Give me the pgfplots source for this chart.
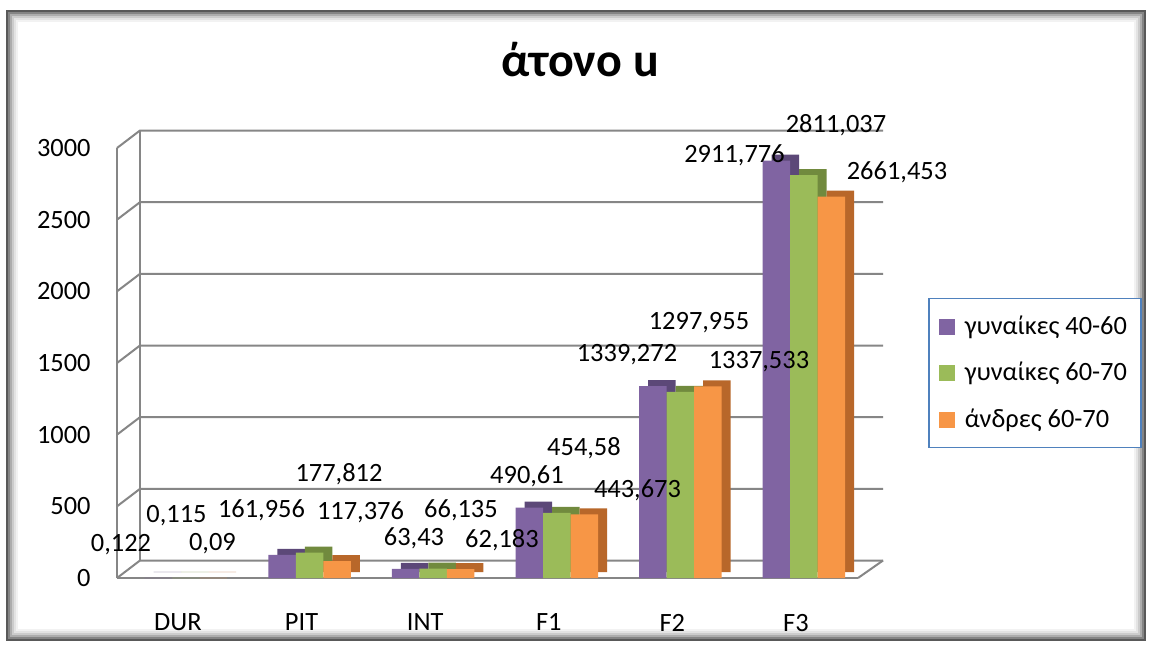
\documentclass[border=0pt]{standalone}
\usepackage{fontspec}
\setmainfont{Carlito}
\usepackage{pgfplots}
\usepackage{pgfplotstable}
\pgfplotsset{compat=1.18}

\definecolor{cpur}{HTML}{8064A2}
\definecolor{cgrn}{HTML}{9BBB59}
\definecolor{corg}{HTML}{F79646}
\definecolor{cpurD}{HTML}{5C4878}
\definecolor{cgrnD}{HTML}{718A3E}
\definecolor{corgD}{HTML}{B8672A}
\definecolor{gridc}{RGB}{134,134,134}
\definecolor{legc}{HTML}{4F81BD}

\pgfplotstableread{
x y dx dy
0 0.122 -18.75 16.5
1 161.956 -10.3 22.4
2 63.43 4.15 15.45
3 490.61 -1.15 15.85
4 1339.272 -12.95 15.5
5 2911.776 -21 2.8
}\tpur
\pgfplotstableread{
x y dx dy
0 0.115 -4.75 31
1 177.812 14.7 39.25
2 66.135 13.9 29.25
3 454.58 13.6 32.4
4 1297.955 9.3 34.5
5 2811.037 16 25
}\tgrn
\pgfplotstableread{
x y dx dy
0 0.09 -0.5 17
1 117.376 11.7 24.6
2 62.183 20.65 14.55
3 443.673 26.6 12.2
4 1337.533 25.55 12.15
5 2661.453 32.75 12.25
}\torg

\newcommand{\lblfont}{\fontsize{13.2}{15.8}\selectfont}

\begin{document}
\begin{tikzpicture}[x=1pt,y=1pt]
\fill[white] (0,0) rectangle (576,322);
% frame with inner shadow
\draw[line width=1pt, black!65] (3.5,2) rectangle (572.5,316.5);
\draw[line width=1pt, black!48] (4.5,3) rectangle (571.5,315.5);
\draw[line width=1pt, black!32] (5.5,4) rectangle (570.5,314.5);
\draw[line width=1pt, black!20] (6.5,5) rectangle (569.5,313.5);
\draw[line width=1pt, black!11] (7.5,6) rectangle (568.5,312.5);
\draw[line width=1pt, black!5] (8.5,7) rectangle (567.5,311.5);
% title
\node[font=\fontsize{24}{28}\selectfont\bfseries, anchor=base] at (290,283.5) {άτονο u};

\begin{axis}[
  at={(58.5pt,33pt)}, anchor=south west,
  scale only axis, width=370.5pt, height=215pt,
  xmin=-0.558, xmax=5.437, ymin=0, ymax=3000,
  clip=false,
  axis lines*=left,
  axis line style={gridc, line width=1pt},
  tick style={draw=none},
  xtick={0,1,2,3,4,5},
  xticklabels={DUR,PIT,INT,F1,F2,F3},
  ytick={0,500,1000,1500,2000,2500,3000},
  ticklabel style={font=\lblfont},
  yticklabel style={anchor=east, inner sep=0pt, xshift=-13pt},
  xticklabel style={anchor=north, inner sep=0pt, yshift=-13.5pt, xshift=-4pt},
  /pgf/number format/.cd, fixed, precision=3, use comma, 1000 sep={}, assume math mode=true,
  /pgfplots/.cd,
  ybar, bar width=13.75pt,
  every node near coord/.append style={font=\lblfont, text=black},
  legend style={at={(1.0945,0.6512)}, anchor=north west, draw=legc, line width=0.75pt,
    font=\lblfont, inner xsep=5pt, inner ysep=6.5pt, row sep=8.5pt,
    /tikz/every odd column/.append style={column sep=3pt}},
  legend cell align=left,
]
\pgfplotsinvokeforeach{0,500,1000,1500,2000,2500,3000}{
  \draw[gridc, line width=1pt] (axis cs:-0.558,#1) -- ([shift={(11.5pt,8.75pt)}]axis cs:-0.558,#1)
     -- ([shift={(12.5pt,8.75pt)}]axis cs:5.437,#1);
}
\draw[gridc, line width=1pt] ([shift={(11.5pt,8.75pt)}]axis cs:-0.558,0) -- ([shift={(11.5pt,8.75pt)}]axis cs:-0.558,3000);
\draw[gridc, line width=1pt] (axis cs:5.437,0) -- ([shift={(12.5pt,8.75pt)}]axis cs:5.437,0);

% depth (top and side faces)
\addplot[fill=cpurD, draw=none, bar shift=-13.75pt, xshift=4.5pt, yshift=3pt, forget plot] table[x=x,y=y]{\tpur};
\addplot[fill=cgrnD, draw=none, bar shift=0pt, xshift=4.5pt, yshift=3pt, forget plot] table[x=x,y=y]{\tgrn};
\addplot[fill=corgD, draw=none, bar shift=13.75pt, xshift=4.5pt, yshift=3pt, forget plot] table[x=x,y=y]{\torg};

% front faces with value labels
\addplot[fill=cpur, draw=none, bar shift=-13.75pt,
  legend image code/.code={\fill[cpur] (0pt,-4pt) rectangle (8pt,4pt);},
  nodes near coords,
  visualization depends on={\thisrow{dx}\as\dx},
  visualization depends on={\thisrow{dy}\as\dy},
  nodes near coords style={anchor=center, xshift=\dx pt, yshift=\dy pt}]
  table[x=x,y=y]{\tpur};
\addplot[fill=cgrn, draw=none, bar shift=0pt,
  legend image code/.code={\fill[cgrn] (0pt,-4pt) rectangle (8pt,4pt);},
  nodes near coords,
  visualization depends on={\thisrow{dx}\as\dx},
  visualization depends on={\thisrow{dy}\as\dy},
  nodes near coords style={anchor=center, xshift=\dx pt, yshift=\dy pt}]
  table[x=x,y=y]{\tgrn};
\addplot[fill=corg, draw=none, bar shift=13.75pt,
  legend image code/.code={\fill[corg] (0pt,-4pt) rectangle (8pt,4pt);},
  nodes near coords,
  visualization depends on={\thisrow{dx}\as\dx},
  visualization depends on={\thisrow{dy}\as\dy},
  nodes near coords style={anchor=center, xshift=\dx pt, yshift=\dy pt}]
  table[x=x,y=y]{\torg};
\legend{γυναίκες 40-60, γυναίκες 60-70, άνδρες 60-70}
\end{axis}
\end{tikzpicture}
\end{document}
